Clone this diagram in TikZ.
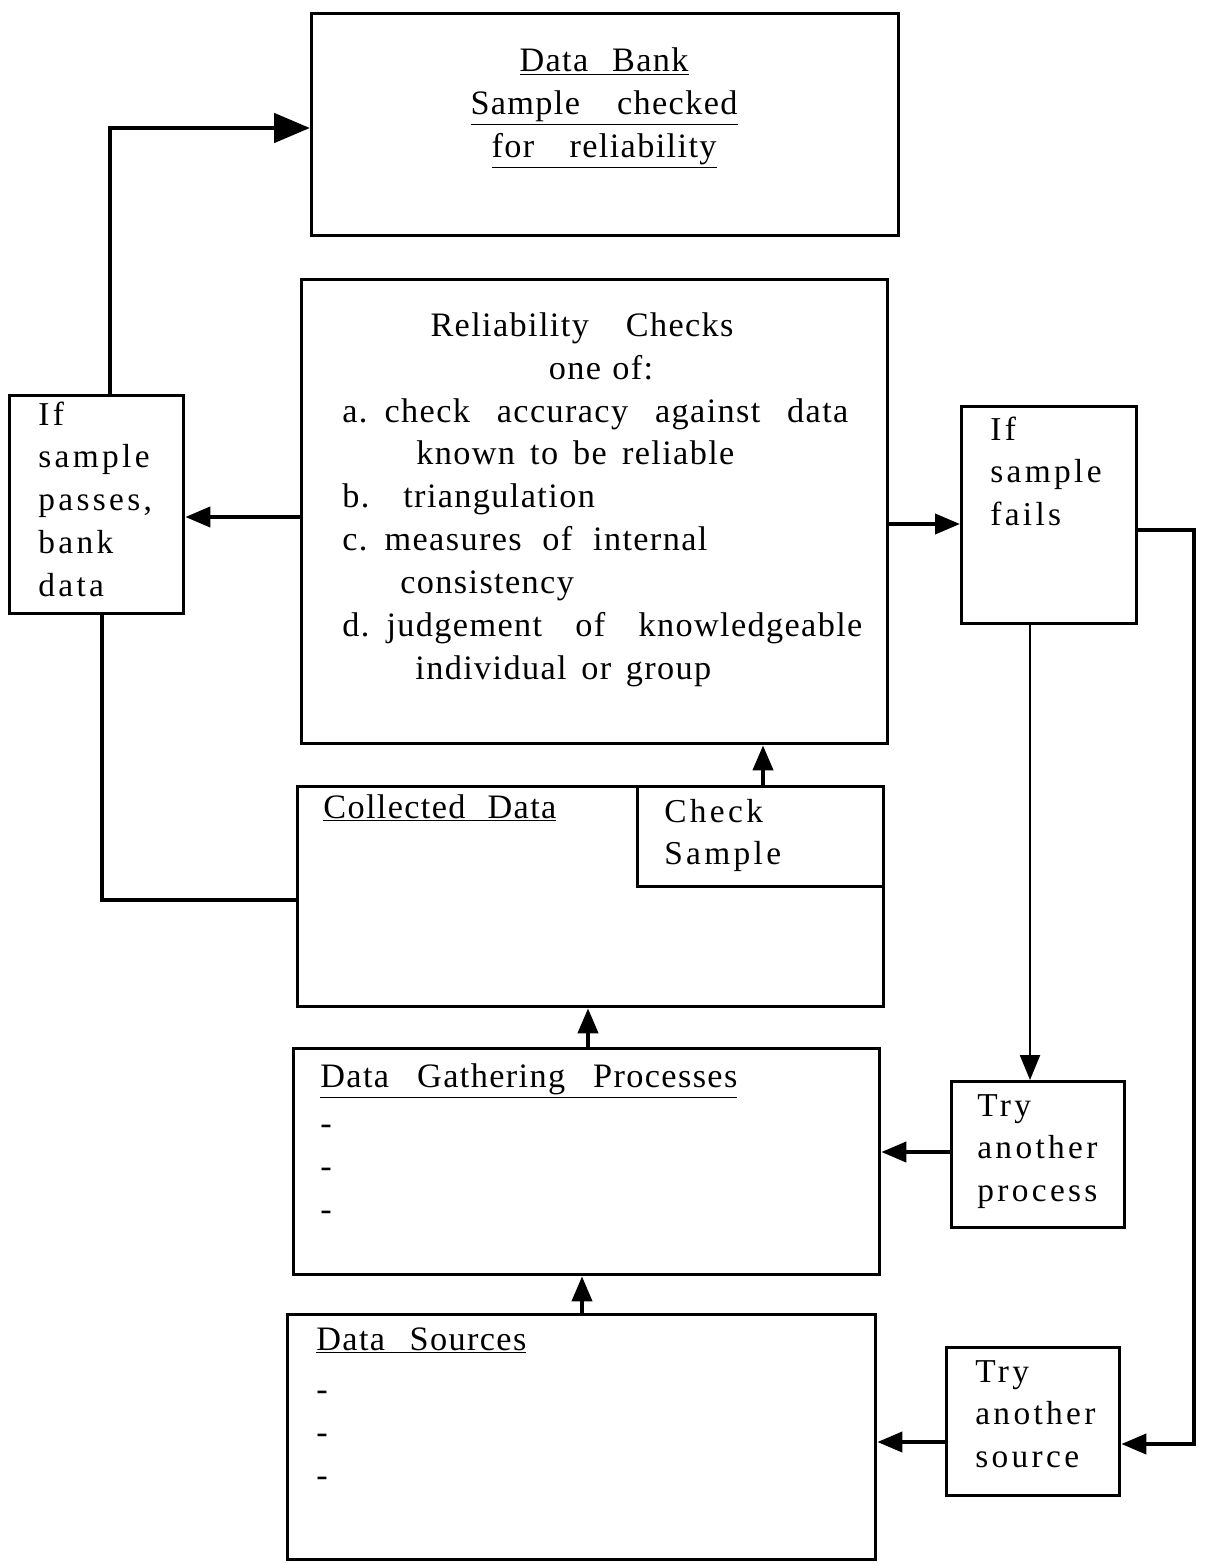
\documentclass[tikz,border=0pt]{standalone}
\usepackage{fontspec}
\setmainfont{Liberation Serif}[LetterSpace=4]
\newfontfamily\widefont[LetterSpace=10]{Liberation Serif}
\usetikzlibrary{positioning}
\usetikzlibrary{arrows.meta}
\newlength\pxu
\setlength\pxu{0.02cm}
\newcommand\sline[2]{{\spaceskip=\fontdimen2\font plus 1fil\makebox[#1\pxu][s]{#2}}}
\tikzset{stage/.style 2 args={draw,line width=1.9pt,inner sep=0pt,anchor=north west,minimum width=#1*0.02cm,minimum height=#2*0.02cm}}
\tikzset{txt/.style={inner sep=0pt,anchor=base west,align=left,text width=11cm,font=\fontsize{19.5}{24.4}\selectfont}}
\tikzset{wide/.style={txt,text width=3cm,font=\widefont\fontsize{19}{24.4}\selectfont}}
\tikzset{ln/.style={line width=2.3pt}}
\tikzset{>={Triangle[length=0.5cm,width=0.4cm]}}

\begin{document}
\begin{tikzpicture}[x=0.02cm,y=-0.02cm]
\useasboundingbox (0,0) rectangle (1204,1564);

% boxes
\node[stage={587}{222}] (bank) at (310,12) {};
\node[stage={586}{464}] (rel) at (300,278) {};
\node[stage={174}{218}] (pass) at (8,394) {};
\node[stage={175}{217}] (fail) at (960,405) {};
\node[stage={586}{220}] (coll) at (296,785) {};
\node[stage={246}{100}] (chk) at (636,785) {};
\node[stage={586}{226}] (gath) at (292,1047) {};
\node[stage={588}{245}] (src) at (286,1313) {};
\node[stage={173}{146}] (tproc) at (950,1080) {};
\node[stage={173}{148}] (tsrc) at (945,1346) {};

% texts
\node[txt,text width=8cm,align=center,anchor=base] (bankt) at (604,72)
  {\underline{\sline{169}{Data Bank}}\\ \underline{\sline{267}{Sample checked}}\\ \underline{\sline{225}{for reliability}}};
\node[txt,text width=8cm,align=center,anchor=base] (relh) at (582,337)
  {\sline{303}{Reliability Checks}\\ \hspace*{38\pxu}one of:};
\node[txt] (rell) at (342,422)
  {\sline{506}{a. check accuracy against data}\\
   \hspace*{74\pxu}\sline{318}{known to be reliable}\\
   \makebox[61\pxu][l]{b.}triangulation\\
   \sline{365}{c. measures of internal}\\
   \hspace*{58\pxu}consistency\\
   \sline{520}{d. judgement of knowledgeable}\\
   \hspace*{73\pxu}\sline{296}{individual or group}};
\node[wide] (passt) at (38,425) {If\\ sample\\ passes,\\ bank\\ data};
\node[wide] (failt) at (990,440) {If\\ sample\\ fails};
\node[txt] (collt) at (323,818) {\underline{\sline{233}{Collected Data}}};
\node[wide] (chkt) at (664,822) {Check\\ Sample};
\node[txt] (gatht) at (320,1087) {\underline{\sline{417}{Data Gathering Processes}}\\[5\pxu] -\\ -\\ -};
\node[txt] (srct) at (316,1350) {\underline{\sline{210}{Data Sources}}\\[8\pxu] -\\ -\\ -};
\node[wide] (tproct) at (977,1116) {Try\\ another\\ process};
\node[wide] (tsrct) at (975,1382) {Try\\ another\\ source};

% connectors
\draw[ln,->] (rel.west |- 0,517) -- (pass.east |- 0,517);
\draw[ln,line width=2.8pt,-{Triangle[length=0.72cm,width=0.58cm]}] (pass.north -| 110,0) |- (bank.west |- 0,128);
\draw[ln] (pass.south -| 102,0) |- (coll.west |- 0,900);
\draw[ln,->] (chk.north -| 763,0) -- (rel.south -| 763,0);
\draw[ln,->] (gath.north -| 588,0) -- (coll.south -| 588,0);
\draw[ln,->] (src.north -| 582,0) -- (gath.south -| 582,0);
\draw[ln,->] (rel.east |- 0,524) -- (fail.west |- 0,524);
\draw[line width=1.3pt,->] (fail.south -| 1030,0) -- (tproc.north -| 1030,0);
\draw[ln,->] (tproc.west |- 0,1152) -- (gath.east |- 0,1152);
\draw[ln,->] (fail.east |- 0,530) -| (1194,1444) -- (tsrc.east |- 0,1444);
\draw[ln,->] (tsrc.west |- 0,1442) -- (src.east |- 0,1442);
\end{tikzpicture}
\end{document}
